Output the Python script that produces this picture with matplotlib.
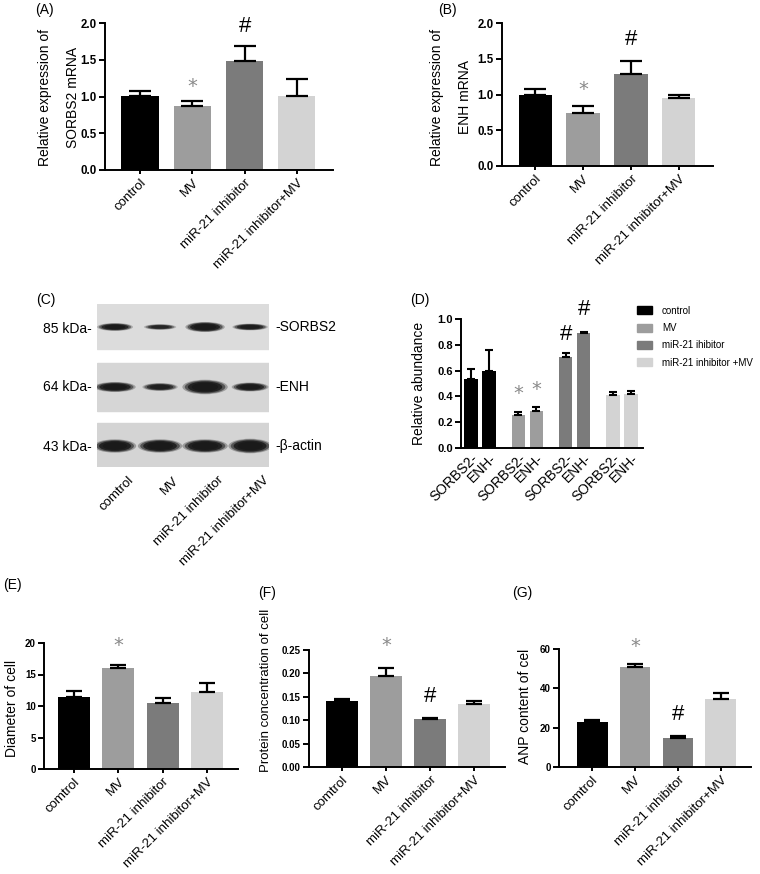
import numpy as np
import matplotlib
matplotlib.use("Agg")
import matplotlib.pyplot as plt
from matplotlib.patches import Rectangle, Ellipse

plt.rcParams['font.family'] = ['Liberation Sans', 'DejaVu Sans']

# ---- data ----
groups_ab = ["control", "MV", "miR-21 inhibitor", "miR-21 inhibitor+MV"]
groups_efg = ["comtrol", "MV", "miR-21 inhibitor", "miR-21 inhibitor+MV"]
legend_labels = ["control", "MV", "miR-21 ihibitor", "miR-21 inhibitor +MV"]
bar_colors = ["#000000", "#9d9d9d", "#7b7b7b", "#d3d3d3"]

sorbs2_mrna = [1.01, 0.87, 1.48, 1.01]
sorbs2_mrna_top = [1.08, 0.94, 1.69, 1.24]
enh_mrna = [1.00, 0.74, 1.29, 0.95]
enh_mrna_top = [1.08, 0.84, 1.47, 1.00]

d_proteins = ["SORBS2-", "ENH-"]
d_sorbs2 = [0.534, 0.256, 0.705, 0.407]
d_sorbs2_top = [0.609, 0.280, 0.738, 0.433]
d_enh = [0.596, 0.290, 0.889, 0.415]
d_enh_top = [0.759, 0.319, 0.900, 0.440]

diameter = [11.5, 16.0, 10.4, 12.3]
diameter_top = [12.4, 16.5, 11.2, 13.6]
protein = [0.141, 0.195, 0.102, 0.134]
protein_top = [0.145, 0.211, 0.104, 0.140]
anp = [22.7, 50.7, 14.7, 34.7]
anp_top = [23.9, 52.4, 15.6, 37.6]

# significance marks: (bar index, y, symbol)
marks_a = [(1, 1.13, "*"), (2, 1.95, "#")]
marks_b = [(1, 1.07, "*"), (2, 1.77, "#")]
marks_d = [(2, 0.425, "*"), (3, 0.45, "*"), (4, 0.876, "#"), (5, 1.07, "#")]
marks_e = [(1, 19.6, "*")]
marks_f = [(1, 0.26, "*"), (2, 0.15, "#")]
marks_g = [(1, 61.5, "*"), (2, 26.6, "#")]

# western blot: band width (lane units), height (px), darkness per lane
blot_rows = ["SORBS2", "ENH", "β-actin"]
blot_kda = ["85 kDa-", "64 kDa-", "43 kDa-"]
blot_lanes = ["comtrol", "MV", "miR-21 inhibitor", "miR-21 inhibitor+MV"]
band_w = [[0.71, 0.64, 0.78, 0.70],
          [0.82, 0.70, 0.90, 0.73],
          [0.84, 0.88, 0.90, 0.86]]
band_h = [[7, 5, 9, 6],
          [9, 7, 13, 8],
          [12, 12, 12, 13]]
band_dark = [[0.9, 0.7, 1.0, 0.85],
             [0.95, 0.8, 1.0, 0.9],
             [1.0, 1.0, 1.0, 1.0]]

W, H = 760, 874
fig = plt.figure(figsize=(W / 100, H / 100), dpi=100)


def box(x0, y0, x1, y1):
    return [x0 / W, 1 - y1 / H, (x1 - x0) / W, (y1 - y0) / H]


def style_axes(ax, ytick_fs):
    for s in ["top", "right"]:
        ax.spines[s].set_visible(False)
    for s in ["left", "bottom"]:
        ax.spines[s].set_linewidth(1.4)
    ax.tick_params(axis="y", length=4, width=1.4, labelsize=ytick_fs, pad=2)
    ax.tick_params(axis="x", length=3, width=1.4, pad=2)
    for t in ax.get_yticklabels():
        t.set_fontweight("bold")


def draw_marks(ax, xs, marks):
    for i, y, sym in marks:
        if sym == "*":
            ax.text(xs[i], y, "*", ha="center", va="center", fontsize=14,
                    color="#8a8a8a", family="DejaVu Sans", clip_on=False)
        else:
            ax.text(xs[i], y, "#", ha="center", va="center", fontsize=16,
                    color="black", clip_on=False)


def bar_panel(rect, means, tops, ylim, yticks, ticklabels, labels, xlim,
              width, marks, ytick_fs, xtick_fs, cap):
    ax = fig.add_axes(box(*rect))
    x = np.arange(len(means))
    ax.bar(x, means, width, color=bar_colors, zorder=2)
    err = np.array(tops) - np.array(means)
    ax.errorbar(x, means, yerr=[np.zeros(len(x)), err], fmt="none",
                ecolor="black", elinewidth=1.6, capsize=cap, capthick=1.6,
                zorder=3)
    ax.set_xlim(*xlim)
    ax.set_ylim(*ylim)
    ax.set_yticks(yticks)
    ax.set_yticklabels(ticklabels)
    ax.set_xticks(x)
    ax.set_xticklabels(labels, rotation=45, ha="right",
                       rotation_mode="anchor", fontsize=xtick_fs)
    style_axes(ax, ytick_fs)
    draw_marks(ax, x, marks)
    return ax


ab_ticks = [0, 0.5, 1.0, 1.5, 2.0]
ab_labels = ["0.0", "0.5", "1.0", "1.5", "2.0"]

# (A)
bar_panel((105, 23, 333, 170), sorbs2_mrna, sorbs2_mrna_top, (0, 2.0),
          ab_ticks, ab_labels, groups_ab, (-0.67, 3.69), 0.71,
          marks_a, 8.3, 9.5, 8)
fig.text(59 / W, 1 - 97 / H, "Relative expression of\nSORBS2 mRNA",
         rotation=90, ha="center", va="center", fontsize=10,
         multialignment="center", linespacing=2.3)
fig.text(35 / W, 1 - 10 / H, "(A)", ha="left", va="center", fontsize=10)

# (B)
bar_panel((502, 23, 713, 166), enh_mrna, enh_mrna_top, (0, 2.0),
          ab_ticks, ab_labels, groups_ab, (-0.69, 3.71), 0.69,
          marks_b, 8.3, 9.5, 8)
fig.text(451 / W, 1 - 97 / H, "Relative expression of\nENH mRNA",
         rotation=90, ha="center", va="center", fontsize=10,
         multialignment="center", linespacing=2.2)
fig.text(438 / W, 1 - 10 / H, "(B)", ha="left", va="center", fontsize=10)

# (C) western blot
ax_c = fig.add_axes(box(97, 304, 269, 467))
ax_c.set_xlim(-0.4, 3.42)
ax_c.set_ylim(467, 304)
ax_c.axis("off")
strip_y = [(304, 349), (363, 411), (423, 467)]
band_y = [327, 387, 446]
strip_col = ["#dcdcdc", "#d6d6d6", "#d4d4d4"]
label_y = [329, 387, 447]
for r in range(3):
    y0, y1 = strip_y[r]
    ax_c.add_patch(Rectangle((-0.4, y0), 3.82, y1 - y0, color=strip_col[r],
                             zorder=1))
    for ln in range(4):
        w = band_w[r][ln]
        h = band_h[r][ln]
        d = band_dark[r][ln]
        for k, (sc, al) in enumerate([(1.12, 0.3), (1.0, 0.55),
                                      (0.85, 0.85), (0.65, 1.0)]):
            ax_c.add_patch(Ellipse((ln, band_y[r]), w * sc, h * sc,
                                   color="#1a1a1a", alpha=al * d,
                                   lw=0, zorder=2 + k))
    ax_c.text(-0.52, label_y[r], blot_kda[r], ha="right", va="center",
              fontsize=10)
    ax_c.text(3.57, band_y[r], "-" + blot_rows[r], ha="left", va="center",
              fontsize=10)
for ln, lab in enumerate(blot_lanes):
    ax_c.text(ln + 0.28, 474, lab, rotation=45, ha="right", va="top",
              rotation_mode="anchor", fontsize=9.5)
fig.text(36 / W, 1 - 300 / H, "(C)", ha="left", va="center", fontsize=10)

# (D)
ax_d = fig.add_axes(box(461, 319, 643, 448))
unit_gap = 2.63
xd = []
for g in range(4):
    xd += [g * unit_gap, g * unit_gap + 1]
xd = np.array(xd)
d_means = np.ravel(np.column_stack([d_sorbs2, d_enh]))
d_tops = np.ravel(np.column_stack([d_sorbs2_top, d_enh_top]))
d_cols = np.repeat(bar_colors, 2)
ax_d.bar(xd, d_means, 0.74, color=d_cols, zorder=2)
ax_d.errorbar(xd, d_means, yerr=[np.zeros(len(xd)), d_tops - d_means],
              fmt="none", ecolor="black", elinewidth=1.5, capsize=3,
              capthick=1.5, zorder=3)
ax_d.set_xlim(-0.56, xd[-1] + 0.67)
ax_d.set_ylim(0, 1.0)
ax_d.set_yticks([0, 0.2, 0.4, 0.6, 0.8, 1.0])
ax_d.set_yticklabels(["0.0", "0.2", "0.4", "0.6", "0.8", "1.0"])
ax_d.set_xticks(xd)
ax_d.set_xticklabels(d_proteins * 4, rotation=45, ha="right",
                     rotation_mode="anchor", fontsize=10)
style_axes(ax_d, 8)
ax_d.tick_params(axis="x", length=0)
draw_marks(ax_d, xd, marks_d)
fig.text(419 / W, 1 - 383 / H, "Relative abundance", rotation=90,
         ha="center", va="center", fontsize=10)
fig.text(410 / W, 1 - 300 / H, "(D)", ha="left", va="center", fontsize=10)
handles = [Rectangle((0, 0), 1, 1, color=c) for c in bar_colors]
fig.legend(handles, legend_labels, loc="upper left",
           bbox_to_anchor=(628 / W, 1 - 297 / H), frameon=False, fontsize=7,
           handlelength=1.6, handleheight=0.9, labelspacing=0.75,
           handletextpad=1.0)

# (E)
bar_panel((44, 643, 238, 769), diameter, diameter_top, (0, 20),
          [0, 5, 10, 15, 20], ["0", "5", "10", "15", "20"], groups_efg,
          (-0.68, 3.7), 0.72, marks_e, 7, 9.5, 6)
fig.text(12 / W, 1 - 708 / H, "Diameter of cell", rotation=90,
         ha="center", va="center", fontsize=10)
fig.text(3 / W, 1 - 585 / H, "(E)", ha="left", va="center", fontsize=10)

# (F)
bar_panel((309, 650, 505, 767), protein, protein_top, (0, 0.25),
          [0, 0.05, 0.10, 0.15, 0.20, 0.25],
          ["0.00", "0.05", "0.10", "0.15", "0.20", "0.25"], groups_efg,
          (-0.75, 3.7), 0.72, marks_f, 7, 9.5, 6)
fig.text(266 / W, 1 - 690 / H, "Protein concentration of cell", rotation=90,
         ha="center", va="center", fontsize=9.5)
fig.text(258 / W, 1 - 593 / H, "(F)", ha="left", va="center", fontsize=10)

# (G)
bar_panel((559, 649, 751, 767), anp, anp_top, (0, 60), [0, 20, 40, 60],
          ["0", "20", "40", "60"], groups_efg, (-0.77, 3.7), 0.72, marks_g,
          7, 9.5, 6)
fig.text(525 / W, 1 - 706 / H, "ANP content of cel", rotation=90,
         ha="center", va="center", fontsize=10)
fig.text(512 / W, 1 - 593 / H, "(G)", ha="left", va="center", fontsize=10)

fig.savefig("out.png", dpi=100, facecolor="white")
